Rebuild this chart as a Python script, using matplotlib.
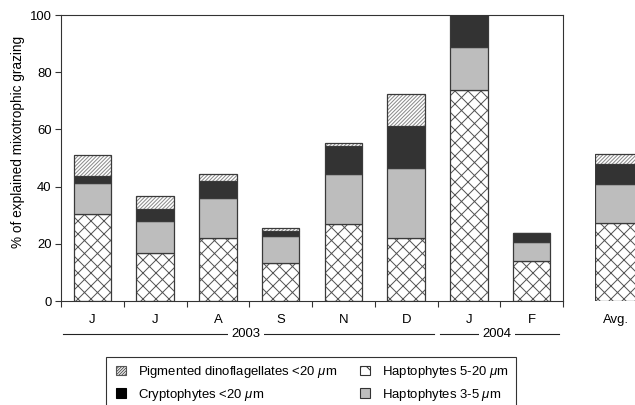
import matplotlib
matplotlib.use("Agg")
import matplotlib.pyplot as plt
import numpy as np
from matplotlib.patches import Patch, Rectangle
from matplotlib.lines import Line2D
import matplotlib.transforms as mtransforms

months = ["J", "J", "A", "S", "N", "D", "J", "F"]
hapto_5_20 = [30.3, 16.7, 22.1, 13.3, 26.8, 22.1, 73.8, 14.0]
hapto_3_5 = [11.1, 11.4, 13.8, 9.5, 17.6, 24.3, 14.9, 6.7]
crypto = [2.3, 4.1, 6.2, 1.7, 9.9, 14.7, 11.3, 3.2]
dino = [7.5, 4.6, 2.4, 0.9, 1.1, 11.2, 0.0, 0.0]
avg_label = "Avg."
avg_values = [27.4, 13.5, 6.9, 3.7]  # hapto5-20, hapto3-5, crypto, dino
years = ["2003", "2004"]

DPI = 78
W, H = 635, 405
PT = 72.0 / DPI  # points per pixel

plt.rcParams["font.family"] = ["Liberation Sans", "DejaVu Sans"]
plt.rcParams["mathtext.fontset"] = "custom"
plt.rcParams["mathtext.it"] = "Liberation Sans:italic"
plt.rcParams["mathtext.rm"] = "Liberation Sans"


def fit_size(text, target_px, base=10.0):
    f = plt.figure(figsize=(8, 2), dpi=DPI)
    t = f.text(0, 0.5, text, fontsize=base)
    f.canvas.draw()
    w = t.get_window_extent().width
    plt.close(f)
    return base * target_px / w


FS = fit_size(r"Pigmented dinoflagellates <20 $\mu$m", 200)
plt.rcParams["font.size"] = FS
plt.rcParams["hatch.linewidth"] = 1.0 * PT

fig = plt.figure(figsize=((W + 0.01) / DPI, (H + 0.01) / DPI), dpi=DPI)


def px_rect(x0, y0, x1, y1):
    return [x0 / W, 1 - y1 / H, (x1 - x0) / W, (y1 - y0) / H]


ax = fig.add_axes(px_rect(61, 15, 563, 301))
ax2 = fig.add_axes(px_rect(595, 15, 637, 301))

edge = "#3a3a3a"
styles = [
    dict(fc="white", hatch="xx", hc="#555555"),        # hapto 5-20
    dict(fc="#bdbdbd", hatch=None, hc=None),           # hapto 3-5
    dict(fc="#333333", hatch=None, hc=None),           # crypto
    dict(fc="white", hatch="///////", hc="#8a8a8a"),   # dino
]
BAR_LW = 1.25 * PT


def draw_stack(axis, xs, series, width):
    bottom = np.zeros(len(xs))
    for vals, st in zip(series, styles):
        vals = np.asarray(vals, dtype=float)
        if st["hatch"]:
            axis.bar(xs, vals, width, bottom=bottom, facecolor=st["fc"],
                     hatch=st["hatch"], edgecolor=st["hc"], linewidth=0)
            axis.bar(xs, vals, width, bottom=bottom, fill=False,
                     edgecolor=edge, linewidth=BAR_LW)
        else:
            axis.bar(xs, vals, width, bottom=bottom, facecolor=st["fc"],
                     edgecolor=edge, linewidth=BAR_LW)
        bottom = bottom + vals


x = np.arange(len(months))
draw_stack(ax, x, [hapto_5_20, hapto_3_5, crypto, dino], 0.6)

ax.set_xlim(-0.5, len(months) - 0.5)
ax.set_ylim(0, 100)
ax.set_yticks([0, 20, 40, 60, 80, 100])
ax.set_xticks(np.arange(-0.5, len(months), 1.0))
ax.set_xticklabels([])
ax.set_xticks(x, minor=True)
ax.set_xticklabels(months, minor=True)
ax.tick_params(axis="x", which="minor", length=0, pad=13 * PT)
ax.tick_params(axis="x", which="major", length=6 * PT, width=1.1 * PT,
               color="#333333", direction="out")
ax.tick_params(axis="y", length=6 * PT, width=1.1 * PT, color="#333333",
               direction="out", pad=3.5 * PT)
for s in ax.spines.values():
    s.set_linewidth(1.1 * PT)
    s.set_color("#333333")
ax.set_ylabel("% of explained mixotrophic grazing",
              fontsize=fit_size("% of explained mixotrophic grazing", 215))
ax.yaxis.set_label_coords(-(61 - 25) / 502.0, (301 - 142) / 286.0)

# Avg bar
draw_stack(ax2, [0], [[v] for v in avg_values], 1.0)
ax2.set_xlim(-0.5, 0.5)
ax2.set_ylim(0, 100)
ax2.set_yticks([])
ax2.set_xticks([0])
ax2.set_xticklabels([avg_label])
ax2.tick_params(axis="x", length=0, pad=13 * PT)
for s in ax2.spines.values():
    s.set_visible(False)

# Year lines
trans = mtransforms.blended_transform_factory(ax.transData, ax.transAxes)
yy = (301 - 334) / 286.0
for (x0, x1, xc), lab in zip([(-0.47, 5.44, 2.45), (5.54, 7.44, 6.45)], years):
    ax.add_line(Line2D([x0, x1], [yy, yy], transform=trans, color="#222222",
                       linewidth=1.1 * PT, clip_on=False))
    ax.text(xc, yy, lab, transform=trans, ha="center", va="center",
            bbox=dict(facecolor="white", edgecolor="none", pad=3.5 * PT),
            clip_on=False)

# Legend frame (extends below the figure edge)
fig.add_artist(Rectangle((106 / W, 1 - 420 / H), (516 - 106) / W, (420 - 357) / H,
                         transform=fig.transFigure, facecolor="white",
                         edgecolor="#333333", linewidth=1.1 * PT, zorder=1))

handles = [
    Patch(facecolor="white", hatch="/////////", edgecolor="#555555", linewidth=1.1 * PT),
    Patch(facecolor="black", edgecolor="black"),
    Patch(facecolor="white", hatch="x", edgecolor="#333333", linewidth=1.1 * PT),
    Patch(facecolor="#bdbdbd", edgecolor="#333333", linewidth=1.1 * PT),
]
labels = [
    r"Pigmented dinoflagellates <20 $\mu$m",
    r"Cryptophytes <20 $\mu$m",
    r"Haptophytes 5-20 $\mu$m",
    r"Haptophytes 3-5 $\mu$m",
]
fpx = FS * DPI / 72.0
leg = fig.legend(handles, labels, ncol=2, loc="upper left",
                 bbox_to_anchor=(116 / W, 1 - 364 / H), frameon=False,
                 handlelength=10 / fpx, handleheight=10 / fpx,
                 handletextpad=12 / fpx, columnspacing=23 / fpx,
                 labelspacing=0.5, borderpad=0, borderaxespad=0)
leg.set_zorder(2)

fig.savefig("out.png", dpi=DPI)
